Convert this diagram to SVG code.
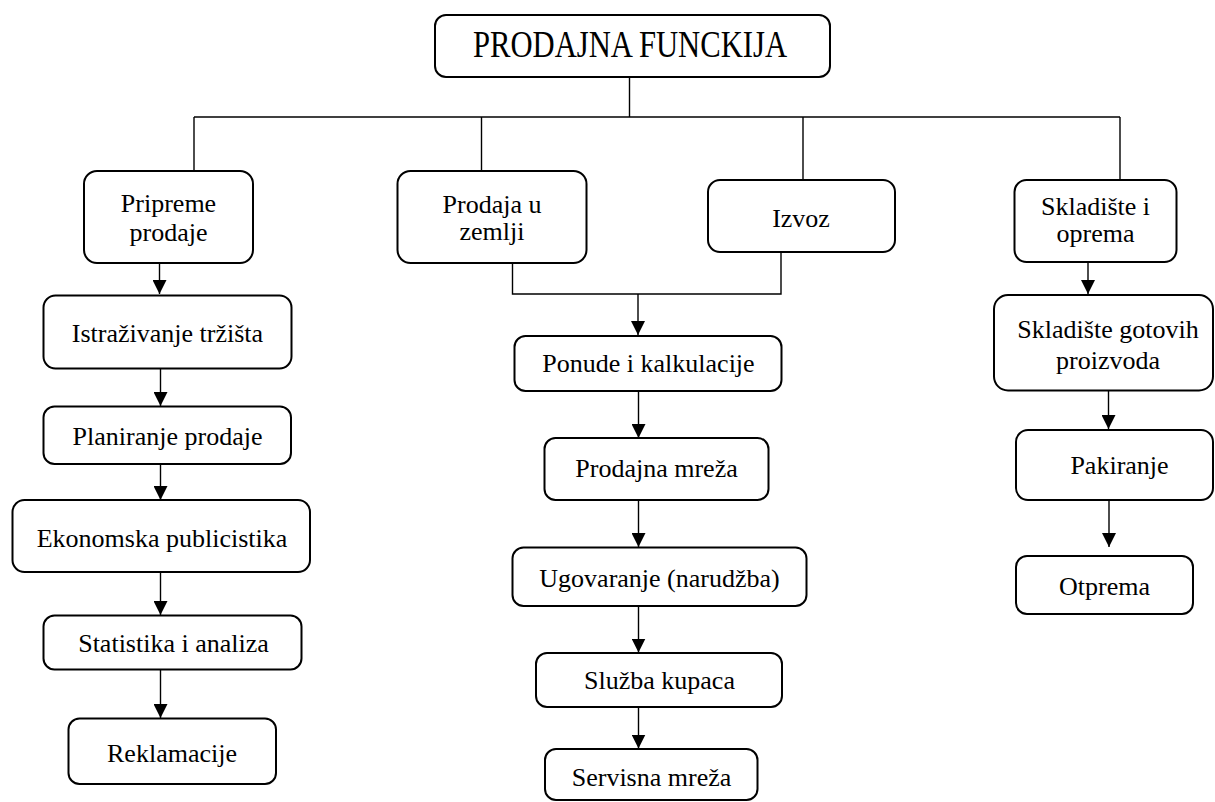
<svg xmlns="http://www.w3.org/2000/svg" width="1215" height="802" viewBox="0 0 1215 802">
<style>
.box{fill:#fff;stroke:#000;stroke-width:2}
.t{font-family:"Liberation Serif","Times New Roman",serif;font-size:26px;fill:#000;text-anchor:middle}
.ttl{font-family:"Liberation Serif","Times New Roman",serif;font-size:37px;fill:#000;text-anchor:middle}
.c{fill:none;stroke:#000;stroke-width:1.4}
</style>
<defs>
<marker id="ah" markerUnits="userSpaceOnUse" markerWidth="14" markerHeight="14" viewBox="0 0 14 14" refX="14" refY="7" orient="auto">
<path d="M0,0 L14,7 L0,14 z" fill="#000"/>
</marker>
</defs>
<rect width="1215" height="802" fill="#fff"/>
<g id="connectors">
<path class="c" d="M629.5,77 V117"/>
<path class="c" d="M194,117 H1120"/>
<path class="c" d="M194,117 V171"/>
<path class="c" d="M481.5,117 V171"/>
<path class="c" d="M803,117 V180"/>
<path class="c" d="M1120,117 V180"/>
<path class="c" d="M159.5,263 V294" marker-end="url(#ah)"/>
<path class="c" d="M512.5,263 V294 H781 V252"/>
<path class="c" d="M638,294 V335" marker-end="url(#ah)"/>
<path class="c" d="M1088,262 V294" marker-end="url(#ah)"/>
<path class="c" d="M160.5,368.5 V406" marker-end="url(#ah)"/>
<path class="c" d="M160.5,464 V500" marker-end="url(#ah)"/>
<path class="c" d="M160.5,572 V615" marker-end="url(#ah)"/>
<path class="c" d="M160.5,669.5 V718" marker-end="url(#ah)"/>
<path class="c" d="M638.5,391 V438" marker-end="url(#ah)"/>
<path class="c" d="M638.5,500 V547" marker-end="url(#ah)"/>
<path class="c" d="M638.5,606 V652.5" marker-end="url(#ah)"/>
<path class="c" d="M638.5,707 V748.5" marker-end="url(#ah)"/>
<path class="c" d="M1108.5,390.5 V429" marker-end="url(#ah)"/>
<path class="c" d="M1109,500 V547" marker-end="url(#ah)"/>
</g>
<g id="title"><rect class="box" x="435" y="15" width="395" height="62" rx="11"/><text class="ttl" x="630" y="57" textLength="314" lengthAdjust="spacingAndGlyphs">PRODAJNA FUNCKIJA</text></g>
<g id="pripreme"><rect class="box" x="84" y="171" width="169" height="92" rx="13"/><text class="t" x="168.5" y="212">Pripreme</text><text class="t" x="168.5" y="241">prodaje</text></g>
<g id="prodaja-zemlja"><rect class="box" x="397.5" y="171" width="189" height="92" rx="13"/><text class="t" x="492" y="212.5">Prodaja u</text><text class="t" x="492" y="239.5">zemlji</text></g>
<g id="izvoz"><rect class="box" x="708" y="180" width="187" height="72" rx="12"/><text class="t" x="801" y="227">Izvoz</text></g>
<g id="skladiste-oprema"><rect class="box" x="1014.5" y="180" width="162" height="82" rx="12"/><text class="t" x="1095.5" y="215">Skladište i</text><text class="t" x="1095.5" y="242">oprema</text></g>
<g id="istrazivanje"><rect class="box" x="43.5" y="295.5" width="248" height="73" rx="12"/><text class="t" x="167.5" y="342">Istraživanje tržišta</text></g>
<g id="planiranje"><rect class="box" x="43.5" y="406.5" width="247.5" height="57.5" rx="11"/><text class="t" x="167.5" y="445">Planiranje prodaje</text></g>
<g id="ekonomska"><rect class="box" x="12.5" y="500" width="297.5" height="72" rx="12"/><text class="t" x="162" y="546.5">Ekonomska publicistika</text></g>
<g id="statistika"><rect class="box" x="43.5" y="615.5" width="258" height="54" rx="11"/><text class="t" x="173.5" y="652">Statistika i analiza</text></g>
<g id="reklamacije"><rect class="box" x="68.5" y="718.5" width="207.5" height="65.5" rx="11"/><text class="t" x="172" y="762">Reklamacije</text></g>
<g id="ponude"><rect class="box" x="514.5" y="336" width="267" height="55" rx="11"/><text class="t" x="648.5" y="372">Ponude i kalkulacije</text></g>
<g id="prodajna-mreza"><rect class="box" x="544.5" y="438" width="224" height="62" rx="11"/><text class="t" x="656.5" y="477">Prodajna mreža</text></g>
<g id="ugovaranje"><rect class="box" x="512.5" y="547.5" width="294" height="58.5" rx="11"/><text class="t" x="659.5" y="586.5">Ugovaranje (narudžba)</text></g>
<g id="sluzba"><rect class="box" x="536" y="653" width="246" height="54" rx="11"/><text class="t" x="659.5" y="689">Služba kupaca</text></g>
<g id="servisna"><rect class="box" x="545" y="749" width="212.5" height="51" rx="11"/><text class="t" x="651.5" y="786">Servisna mreža</text></g>
<g id="skladiste-gotovih"><rect class="box" x="994" y="295" width="219" height="95.5" rx="14"/><text class="t" x="1108" y="338">Skladište gotovih</text><text class="t" x="1108" y="369">proizvoda</text></g>
<g id="pakiranje"><rect class="box" x="1016" y="430" width="197" height="70" rx="12"/><text class="t" x="1119.5" y="473.5">Pakiranje</text></g>
<g id="otprema"><rect class="box" x="1016" y="556" width="177" height="58" rx="11"/><text class="t" x="1104.5" y="595">Otprema</text></g>
</svg>
